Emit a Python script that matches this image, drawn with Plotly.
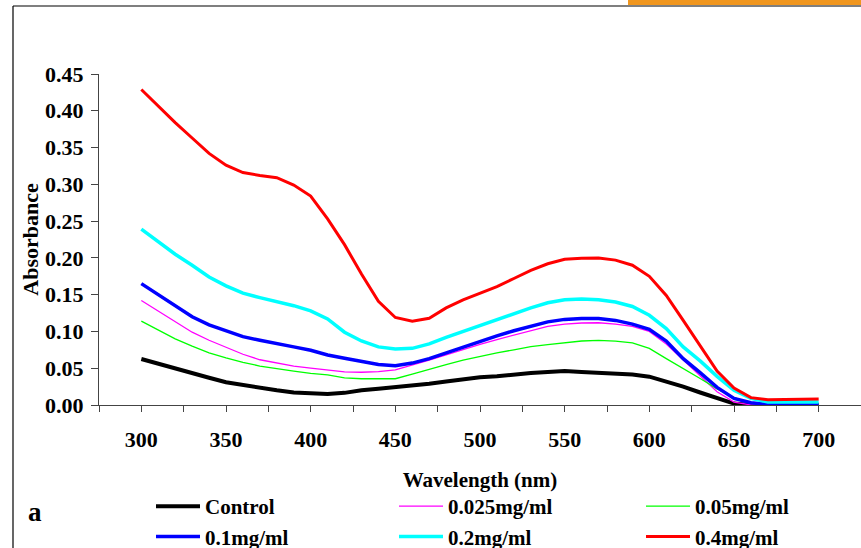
import plotly.graph_objects as go

wavelength = list(range(300, 701, 10))

control = [0.0625, 0.056, 0.049, 0.043, 0.037, 0.031, 0.027, 0.023, 0.020, 0.017,
           0.0155, 0.015, 0.0165, 0.020, 0.022, 0.024, 0.0265, 0.029, 0.032, 0.035,
           0.0376, 0.039, 0.0415, 0.0435, 0.045, 0.0462, 0.045, 0.0442, 0.043, 0.0415,
           0.0385, 0.032, 0.025, 0.017, 0.009, 0.002, 0.0, 0.0, 0.0, 0.0, 0.0]
c0025 = [0.142, 0.128, 0.114, 0.099, 0.088, 0.078, 0.069, 0.0615, 0.057, 0.053,
         0.050, 0.047, 0.045, 0.0445, 0.0455, 0.0478, 0.054, 0.061, 0.068, 0.0755,
         0.0825, 0.089, 0.095, 0.101, 0.1068, 0.110, 0.1115, 0.1118, 0.110, 0.107,
         0.100, 0.083, 0.061, 0.040, 0.018, 0.004, 0.0, 0.0, 0.0, 0.0, 0.0]
c005 = [0.114, 0.102, 0.090, 0.080, 0.071, 0.0642, 0.058, 0.053, 0.049, 0.046,
        0.043, 0.041, 0.037, 0.0357, 0.0357, 0.0357, 0.042, 0.049, 0.055, 0.061,
        0.0665, 0.071, 0.075, 0.0795, 0.082, 0.0846, 0.087, 0.0878, 0.0868, 0.0845,
        0.077, 0.063, 0.050, 0.036, 0.022, 0.010, 0.003, 0.0, 0.0, 0.0, 0.0]
c01 = [0.165, 0.150, 0.134, 0.120, 0.109, 0.1005, 0.093, 0.088, 0.083, 0.079,
       0.0745, 0.068, 0.0635, 0.059, 0.055, 0.0535, 0.057, 0.063, 0.071, 0.079,
       0.087, 0.094, 0.101, 0.1075, 0.113, 0.1164, 0.1177, 0.1177, 0.115, 0.110,
       0.103, 0.087, 0.063, 0.044, 0.024, 0.009, 0.003, 0.001, 0.001, 0.001, 0.001]
c02 = [0.239, 0.222, 0.205, 0.190, 0.174, 0.162, 0.152, 0.146, 0.141, 0.135,
       0.128, 0.117, 0.099, 0.087, 0.079, 0.076, 0.077, 0.083, 0.092, 0.100,
       0.108, 0.116, 0.125, 0.132, 0.139, 0.143, 0.144, 0.143, 0.140, 0.134,
       0.122, 0.104, 0.079, 0.060, 0.039, 0.020, 0.009, 0.004, 0.004, 0.004, 0.004]
c04 = [0.429, 0.406, 0.384, 0.363, 0.342, 0.326, 0.316, 0.312, 0.309, 0.299,
       0.284, 0.253, 0.218, 0.178, 0.141, 0.119, 0.114, 0.118, 0.132, 0.143,
       0.152, 0.161, 0.172, 0.183, 0.192, 0.198, 0.1995, 0.200, 0.197, 0.190,
       0.175, 0.149, 0.115, 0.080, 0.046, 0.023, 0.010, 0.007, 0.007, 0.008, 0.008]

series_names = ["Control", "0.025mg/ml", "0.05mg/ml", "0.1mg/ml", "0.2mg/ml", "0.4mg/ml"]
series_values = [control, c0025, c005, c01, c02, c04]
series_colors = ["#000000", "#FF00FF", "#00FF00", "#0000FF", "#00FFFF", "#FF0000"]
series_widths = [4, 1.3, 1.3, 3.5, 3.5, 3]
series_legend = ["legend", "legend2", "legend3", "legend", "legend2", "legend3"]

x_ticks = list(range(300, 701, 50))
y_ticks = [round(0.05 * i, 2) for i in range(10)]

W, H = 861, 548
L, R, T, B = 99, 0, 74, 143
PW, PH = W - L - R, H - T - B


def px(x):
    return (x - L) / PW


def py(y):
    return (H - B - y) / PH


SERIF = "Liberation Serif"

fig = go.Figure()
for name, vals, col, lw, lg in zip(series_names, series_values, series_colors,
                                   series_widths, series_legend):
    fig.add_trace(go.Scatter(x=wavelength, y=vals, mode="lines", name=name,
                             line=dict(color=col, width=lw), legend=lg))

axis_col = "#444444"
legend_font = dict(family=SERIF, size=21, weight="bold", color="black")


def legend_at(x_pix, y_pix):
    return dict(orientation="v", x=px(x_pix), y=py(y_pix), xanchor="left", yanchor="top",
                xref="paper", yref="paper", itemwidth=44, bgcolor="rgba(0,0,0,0)",
                borderwidth=0, font=legend_font)


fig.update_layout(
    width=W, height=H,
    margin=dict(l=L, r=R, t=T, b=B, pad=0, autoexpand=False),
    paper_bgcolor="white", plot_bgcolor="white",
    font=dict(family=SERIF, color="black", size=22),
    xaxis=dict(range=[275, 725], tickmode="array", tickvals=x_ticks,
               ticks="outside", ticklen=6, tickcolor=axis_col, tickwidth=1,
               showline=True, linecolor=axis_col, linewidth=1,
               showgrid=False, zeroline=False,
               minor=dict(tickmode="linear", tick0=275, dtick=25, ticks="outside",
                          ticklen=6, tickcolor=axis_col, tickwidth=1, showgrid=False),
               tickfont=dict(family=SERIF, size=22, weight="bold"),
               ticklabelstandoff=9,
               title=dict(text="Wavelength (nm)", standoff=20,
                          font=dict(family=SERIF, size=21, weight="bold"))),
    yaxis=dict(range=[0, 0.45], tickmode="array", tickvals=y_ticks, tickformat=".2f",
               ticks="outside", ticklen=7, tickcolor=axis_col, tickwidth=1,
               showline=True, linecolor=axis_col, linewidth=1,
               showgrid=False, zeroline=False,
               tickfont=dict(family=SERIF, size=22, weight="bold"),
               ticklabelstandoff=3,
               title=dict(text="Absorbance", standoff=0,
                          font=dict(family=SERIF, size=22, weight="bold"))),
    legend=legend_at(151, 486),
    legend2=legend_at(394, 486),
    legend3=legend_at(641, 486),
    showlegend=True,
)

shapes = [
    dict(type="rect", xref="paper", yref="paper", x0=px(628), x1=px(861), y0=py(5), y1=py(0),
         fillcolor="#F0961E", line=dict(width=0), layer="above"),
    dict(type="line", xref="paper", yref="paper", x0=px(13), x1=px(861), y0=py(6), y1=py(6),
         line=dict(color="black", width=1.2)),
    dict(type="line", xref="paper", yref="paper", x0=px(13), x1=px(13), y0=py(6), y1=py(548),
         line=dict(color="black", width=1.2)),
]
fig.update_layout(shapes=shapes)
fig.add_annotation(text="a", xref="paper", yref="paper", x=px(35), y=py(512),
                   xanchor="center", yanchor="middle", showarrow=False,
                   font=dict(family=SERIF, size=27, weight="bold", color="black"))

fig.write_html("out.html")
